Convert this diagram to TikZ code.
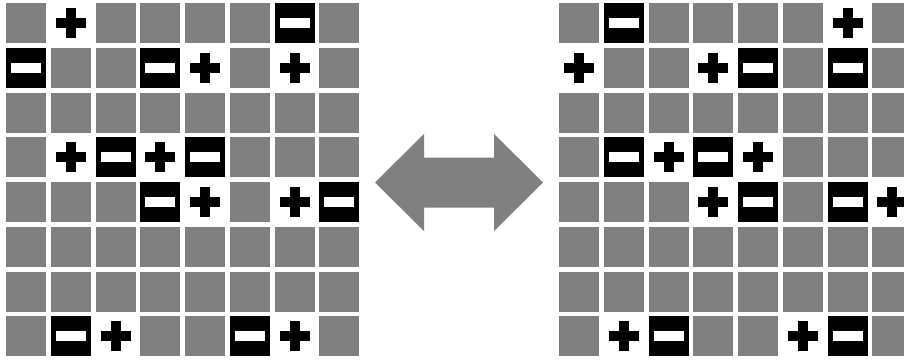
\documentclass[tikz,border=0pt]{standalone}
\usepackage{tikz}

\begin{document}
\begin{tikzpicture}[x=1pt, y=-1pt,
    cell/.style={fill=gray, minimum size=40pt, inner sep=0pt, draw=none},
    pluscell/.style={cell, fill=white, path picture={
        \fill[black] (path picture bounding box.center) ++(-15,-5) rectangle ++(30,10);
        \fill[black] (path picture bounding box.center) ++(-5,-15) rectangle ++(10,30);}},
    minuscell/.style={cell, fill=black, path picture={
        \fill[white] (path picture bounding box.center) ++(-15,-5) rectangle ++(30,10);}},
    swap/.style={fill=gray}
]
\useasboundingbox (0,0) rectangle (904,361);

% gray cells of both grids
\foreach \r in {0,...,7}
  \foreach \c in {0,...,7} {
    \node[cell] (L-\r-\c) at ({26+44.75*\c},{23+44.75*\r}) {};
    \node[cell] (R-\r-\c) at ({579+44.75*\c},{23+44.75*\r}) {};
  }

% plus on the left, minus on the right
\foreach \r/\c in {0/1,1/4,1/6,3/1,3/3,4/4,4/6,7/2,7/6} {
  \node[pluscell] (Lp-\r-\c) at (L-\r-\c) {};
  \node[minuscell] (Rm-\r-\c) at (R-\r-\c) {};
}
% minus on the left, plus on the right
\foreach \r/\c in {0/6,1/0,1/3,3/2,3/4,4/3,4/7,7/1,7/5} {
  \node[minuscell] (Lm-\r-\c) at (L-\r-\c) {};
  \node[pluscell] (Rp-\r-\c) at (R-\r-\c) {};
}

% double arrow between the grids
\fill[swap] (375,182.5) -- (424,134) -- (424,157.5) -- (494,157.5) -- (494,134)
  -- (543,182.5) -- (494,231) -- (494,207.5) -- (424,207.5) -- (424,231) -- cycle;
\end{tikzpicture}
\end{document}
